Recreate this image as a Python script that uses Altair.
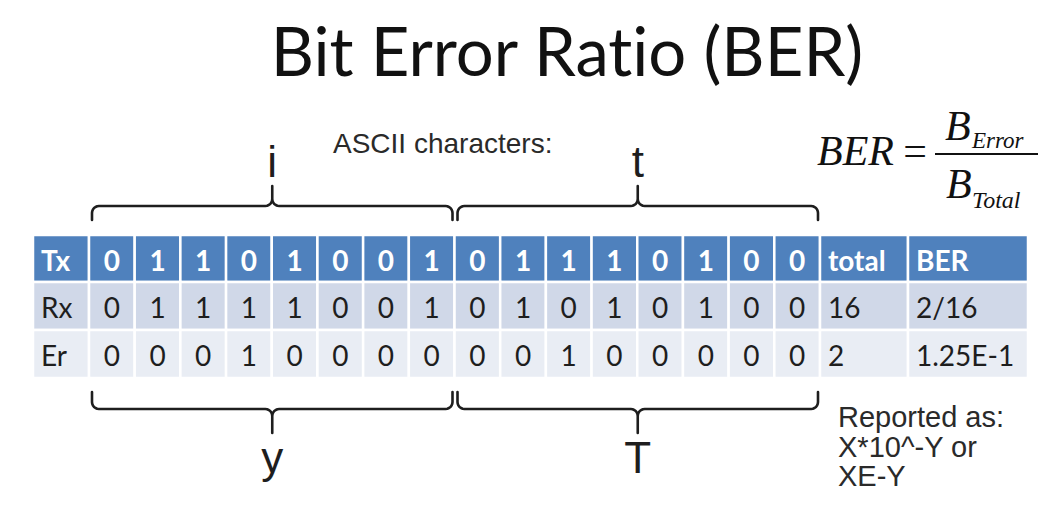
import altair as alt
import numpy as np
import pandas as pd

# ---------------- data ----------------
tx_bits = [0, 1, 1, 0, 1, 0, 0, 1, 0, 1, 1, 1, 0, 1, 0, 0]
rx_bits = [0, 1, 1, 1, 1, 0, 0, 1, 0, 1, 0, 1, 0, 1, 0, 0]
er_bits = [0, 0, 0, 1, 0, 0, 0, 0, 0, 0, 1, 0, 0, 0, 0, 0]
row_labels = ["Tx", "Rx", "Er"]
summary_header = ["total", "BER"]
summary_rx = ["16", "2/16"]
summary_er = ["2", "1.25E-1"]
sent_chars = ["i", "t"]
received_chars = ["y", "T"]
title_text = "Bit Error Rat\u200cio (BER)"  # ZWNJ keeps "ti" from forming a ligature
subtitle_text = "ASCII characters:"
note_lines = ["Reported as:", "X*10^-Y or", "XE-Y"]

# ---------------- layout ----------------
W, H = 1038, 498
TABLE_LEFT = 33
LABEL_W = 56
BIT_W = (820 - 89) / 16
TOTAL_W = 88
BER_W = 120
ROW_EDGES = [235, 282, 330, 378]
HEADER_FILL, ROW1_FILL, ROW2_FILL = "#4F81BD", "#D0D8E8", "#E9EDF4"
INK = "#1e1e1e"

col_edges = [TABLE_LEFT, TABLE_LEFT + LABEL_W]
for k in range(16):
    col_edges.append(col_edges[-1] + BIT_W)
col_edges.append(col_edges[-1] + TOTAL_W)
col_edges.append(col_edges[-1] + BER_W)

rows = [
    [row_labels[0]] + [str(b) for b in tx_bits] + summary_header,
    [row_labels[1]] + [str(b) for b in rx_bits] + summary_rx,
    [row_labels[2]] + [str(b) for b in er_bits] + summary_er,
]
fills = [HEADER_FILL, ROW1_FILL, ROW2_FILL]

cells = []
for r, row in enumerate(rows):
    y0, y1 = ROW_EDGES[r], ROW_EDGES[r + 1]
    for c, txt in enumerate(row):
        x0, x1 = col_edges[c], col_edges[c + 1]
        is_bit = 1 <= c <= 16
        cells.append(dict(
            x=x0, x2=x1, y=y0, y2=y1, fill=fills[r], text=txt,
            tx=(x0 + x1) / 2 if is_bit else x0 + 8,
            ty=(y0 + y1) / 2 + 12,
            header=(r == 0), bit=is_bit,
            color="white" if r == 0 else INK,
        ))
cells = pd.DataFrame(cells)


def xs(f="x"):
    return alt.X(f"{f}:Q", scale=alt.Scale(domain=[8, 8 + W], nice=False, zero=False), axis=None)


def ys(f="y"):
    return alt.Y(f"{f}:Q", scale=alt.Scale(domain=[8, 8 + H], reverse=True, nice=False, zero=False), axis=None)


rects = alt.Chart(cells).mark_rect(stroke="white", strokeWidth=2.5).encode(
    x=xs("x"), x2="x2:Q", y=ys("y"), y2="y2:Q",
    fill=alt.Fill("fill:N", scale=None),
)


def cell_text(df, align, bold):
    return alt.Chart(df).mark_text(
        font="Lato", fontSize=28, align=align, baseline="alphabetic",
        fontWeight="bold" if bold else "normal",
    ).encode(x=xs("tx"), y=ys("ty"), text="text:N", color=alt.Color("color:N", scale=None))


t_head_left = cell_text(cells[cells.header & ~cells.bit], "left", True)
t_head_bits = cell_text(cells[cells.header & cells.bit], "center", True)
t_body_left = cell_text(cells[~cells.header & ~cells.bit], "left", False)
t_body_bits = cell_text(cells[~cells.header & cells.bit], "center", False)


# ---------------- braces ----------------
def brace_points(x0, x1, y_bar, y_end, y_tip, r, n=7):
    s = 1 if y_end > y_bar else -1
    xm = (x0 + x1) / 2
    th = np.linspace(0, np.pi / 2, n)
    pts = [(x0, y_end)]
    cx, cy = x0 + r, y_bar + s * r
    pts += [(cx - r * np.cos(t), cy - s * r * np.sin(t)) for t in th]
    cx, cy = xm - r, y_bar - s * r
    pts += [(cx + r * np.sin(t), cy + s * r * np.cos(t)) for t in th]
    pts.append((xm, y_tip))
    cx, cy = xm + r, y_bar - s * r
    pts += [(cx - r * np.cos(t), cy + s * r * np.sin(t)) for t in th]
    cx, cy = x1 - r, y_bar + s * r
    pts += [(cx + r * np.sin(t), cy - s * r * np.cos(t)) for t in th]
    pts.append((x1, y_end))
    return pts, xm


brace_rows = []
letters = []
for g in range(2):
    x0 = col_edges[1 + 8 * g] + 3
    x1 = col_edges[1 + 8 * g + 8] - 2
    top, xm = brace_points(x0, x1, 206, 220, 186, 7)
    for i, (px, py) in enumerate(top):
        brace_rows.append(dict(brace=f"top{g}", order=i, x=px, y=py))
    letters.append(dict(text=sent_chars[g], x=xm, y=177))
    bot, xm = brace_points(x0, x1, 409, 392, 433, 7)
    for i, (px, py) in enumerate(bot):
        brace_rows.append(dict(brace=f"bot{g}", order=i, x=px, y=py))
    letters.append(dict(text=received_chars[g], x=xm, y=473))
brace_df = pd.DataFrame(brace_rows)
letters_df = pd.DataFrame(letters)

braces = alt.Chart(brace_df).mark_line(
    color=INK, strokeWidth=2.6, strokeJoin="round", strokeCap="round"
).encode(x=xs("x"), y=ys("y"), detail="brace:N", order="order:Q")

letters_layer = alt.Chart(letters_df).mark_text(
    font="Liberation Sans", fontSize=44, align="center", baseline="alphabetic", color=INK
).encode(x=xs("x"), y=ys("y"), text="text:N")

# ---------------- titles / notes ----------------
title_layer = alt.Chart(pd.DataFrame([dict(text=title_text, x=567, y=76)])).mark_text(
    font="Lato", fontSize=67, align="center", baseline="alphabetic", color="#111111"
).encode(x=xs("x"), y=ys("y"), text="text:N")

subtitle_layer = alt.Chart(pd.DataFrame([dict(text=subtitle_text, x=333, y=153)])).mark_text(
    font="Liberation Sans", fontSize=28, align="left", baseline="alphabetic", color="#2a2a2a"
).encode(x=xs("x"), y=ys("y"), text="text:N")

notes_df = pd.DataFrame([dict(text=t, x=838, y=427 + 29.5 * i) for i, t in enumerate(note_lines)])
notes_layer = alt.Chart(notes_df).mark_text(
    font="Liberation Sans", fontSize=29, align="left", baseline="alphabetic", color="#2a2a2a"
).encode(x=xs("x"), y=ys("y"), text="text:N")

# ---------------- formula ----------------
formula_italic = pd.DataFrame([
    dict(text="BER", x=817, y=165, size=42),
    dict(text="B", x=945, y=140, size=42),
    dict(text="Error", x=972, y=148, size=23),
    dict(text="B", x=946, y=198, size=42),
    dict(text="Total", x=972, y=208, size=24),
])
formula_layer = alt.Chart(formula_italic).mark_text(
    font="Liberation Serif", fontStyle="italic", align="left", baseline="alphabetic", color="#111111"
).encode(x=xs("x"), y=ys("y"), text="text:N", size=alt.Size("size:Q", scale=None))

equals_layer = alt.Chart(pd.DataFrame([dict(text="=", x=915, y=165)])).mark_text(
    font="Liberation Serif", fontSize=42, align="center", baseline="alphabetic", color="#111111"
).encode(x=xs("x"), y=ys("y"), text="text:N")

frac_layer = alt.Chart(pd.DataFrame([dict(x=935, x2=1038, y=154)])).mark_rule(
    color="#111111", strokeWidth=2
).encode(x=xs("x"), x2="x2:Q", y=ys("y"))

chart = alt.layer(
    rects, t_head_left, t_head_bits, t_body_left, t_body_bits,
    braces, letters_layer, title_layer, subtitle_layer, notes_layer,
    formula_layer, equals_layer, frac_layer,
).properties(
    width=W, height=H, padding=0, background="white",
    autosize=alt.AutoSizeParams(type="none"),
).configure_view(stroke=None)

chart.save("out.html", embed_options={"renderer": "svg", "actions": False})
